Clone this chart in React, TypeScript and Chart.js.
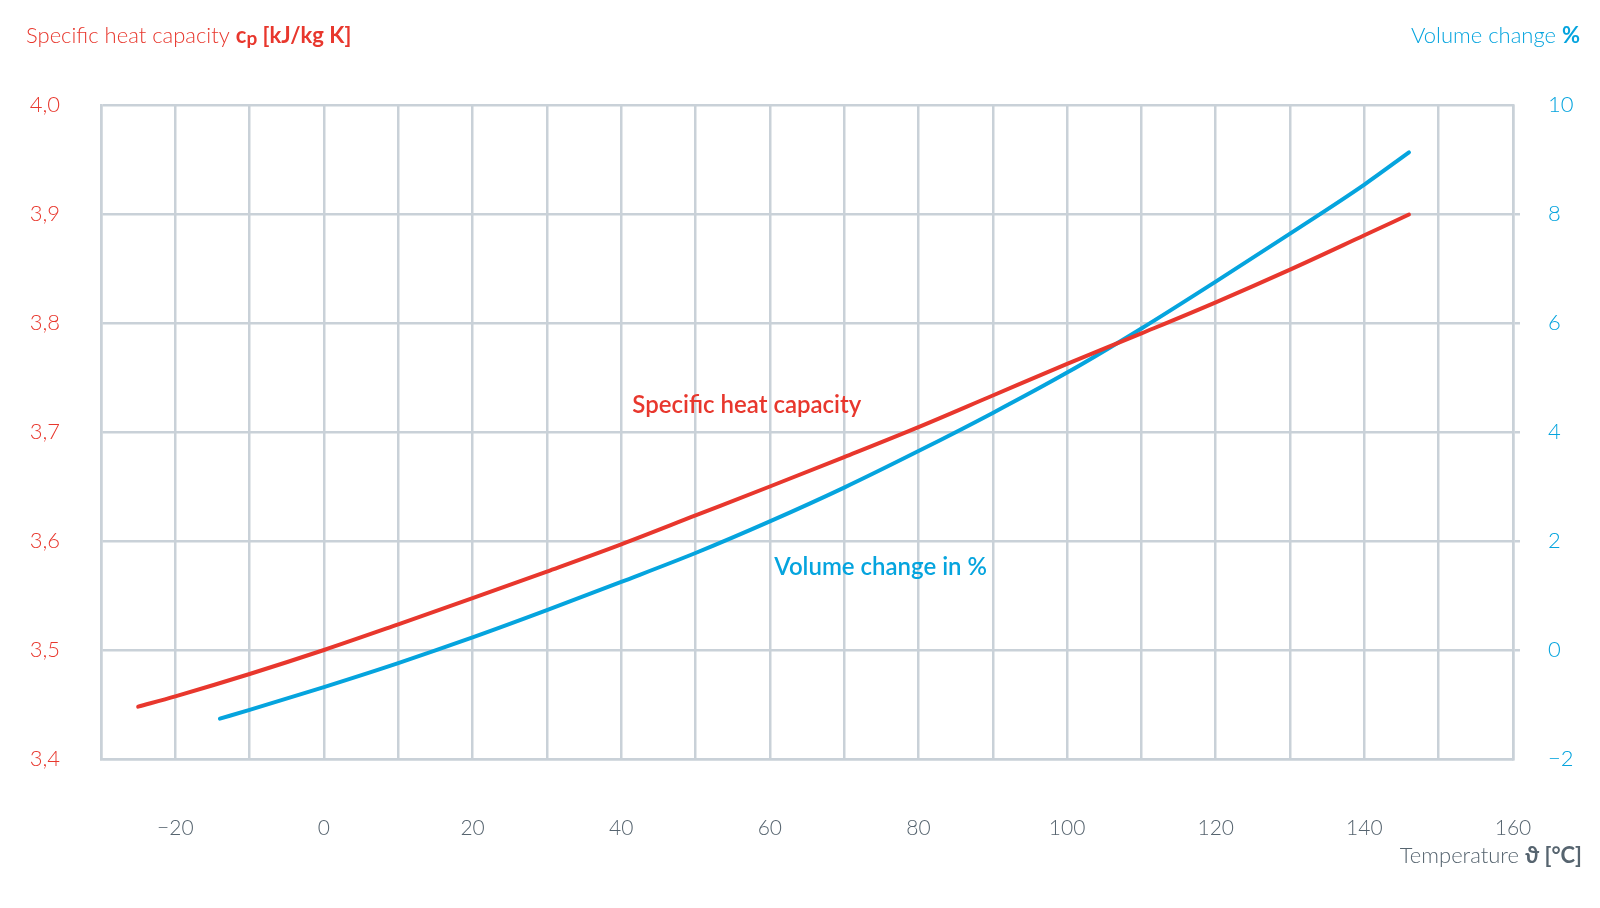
import React, { useEffect, useRef } from 'react';
import { Chart, registerables } from 'chart.js';

Chart.register(...registerables);

// ---- data ----
const heatTemps = [-25, -20, -10, 0, 10, 20, 30, 40, 50, 60, 70, 80, 90, 100, 110, 120, 130, 140, 146];
const heatCapacity = [3.448, 3.4575, 3.478, 3.5, 3.5235, 3.5475, 3.572, 3.597, 3.6235, 3.65, 3.677, 3.7045, 3.7335, 3.7625, 3.7905, 3.819, 3.849, 3.8805, 3.8995];
const volumeTemps = [-14, -10, 0, 10, 20, 30, 40, 50, 60, 70, 80, 90, 100, 110, 120, 130, 140, 146];
const volumeChange = [-1.26, -1.1, -0.68, -0.24, 0.23, 0.73, 1.25, 1.78, 2.36, 2.98, 3.65, 4.35, 5.09, 5.9, 6.76, 7.64, 8.54, 9.13];

const xGridValues = [-30, -20, -10, 0, 10, 20, 30, 40, 50, 60, 70, 80, 90, 100, 110, 120, 130, 140, 150, 160];
const xLabelValues = [-20, 0, 20, 40, 60, 80, 100, 120, 140, 160];
const cpTicks = [3.4, 3.5, 3.6, 3.7, 3.8, 3.9, 4.0];
const volumeTicks = [-2, 0, 2, 4, 6, 8, 10];

const RED = '#e8372d';
const BLUE = '#05a4de';
const GRID = '#c9d1d8';
const SLATE = '#56646f';
const FONT = 'Lato, "Open Sans", sans-serif';

const seriesLabels = [
  { text: 'Specific heat capacity', x: 41.5, y: 3.7245, axis: 'yCp', color: RED },
  { text: 'Volume change in %', x: 60.6, y: 1.52, axis: 'yVol', color: BLUE },
];

const fmtMinus = (v: number) => (v < 0 ? '\u2212' + String(Math.abs(v)) : String(v));

type Run = { text: string; weight: number; size: number; dy?: number };

function drawRuns(ctx: CanvasRenderingContext2D, runs: Run[], x: number, y: number, align: 'left' | 'right', color: string) {
  ctx.save();
  ctx.fillStyle = color;
  ctx.textBaseline = 'middle';
  ctx.textAlign = 'left';
  const widths = runs.map((r) => {
    ctx.font = `${r.weight} ${r.size}px ${FONT}`;
    return ctx.measureText(r.text).width;
  });
  const total = widths.reduce((a, b) => a + b, 0);
  let cx = align === 'left' ? x : x - total;
  runs.forEach((r, i) => {
    ctx.font = `${r.weight} ${r.size}px ${FONT}`;
    ctx.fillText(r.text, cx, y + (r.dy || 0));
    cx += widths[i];
  });
  ctx.restore();
}

const textPlugin = {
  id: 'texts',
  afterDraw(chart: any) {
    const ctx: CanvasRenderingContext2D = chart.ctx;
    drawRuns(ctx, [
      { text: 'Specific heat capacity ', weight: 300, size: 22 },
      { text: 'c', weight: 700, size: 22 },
      { text: 'p', weight: 700, size: 19, dy: 3 },
      { text: ' [kJ/kg K]', weight: 700, size: 22 },
    ], 26, 36, 'left', RED);
    drawRuns(ctx, [
      { text: 'Volume change ', weight: 300, size: 22 },
      { text: '%', weight: 700, size: 22 },
    ], 1580, 36, 'right', BLUE);
    drawRuns(ctx, [
      { text: 'Temperature ', weight: 300, size: 22 },
      { text: '\u03D1 [°C]', weight: 700, size: 22 },
    ], 1582, 856, 'right', SLATE);

    const xs = chart.scales.x;
    seriesLabels.forEach((l) => {
      const ys = chart.scales[l.axis];
      const px = xs.getPixelForValue(l.x);
      const py = ys.getPixelForValue(l.y);
      ctx.save();
      ctx.fillStyle = l.color;
      ctx.font = `600 24px ${FONT}`;
      ctx.textAlign = 'left';
      ctx.textBaseline = 'middle';
      ctx.fillText(l.text, px, py);
      ctx.restore();
    });
  },
};

export default function App() {
  const ref = useRef<HTMLCanvasElement | null>(null);
  useEffect(() => {
    if (!ref.current) return;
    const chart = new Chart(ref.current, {
      type: 'line',
      data: {
        datasets: [
          {
            label: 'Specific heat capacity',
            data: heatTemps.map((t, i) => ({ x: t, y: heatCapacity[i] })),
            borderColor: RED,
            borderWidth: 4,
            pointRadius: 0,
            cubicInterpolationMode: 'monotone',
            borderCapStyle: 'round',
            yAxisID: 'yCp',
          },
          {
            label: 'Volume change in %',
            data: volumeTemps.map((t, i) => ({ x: t, y: volumeChange[i] })),
            borderColor: BLUE,
            borderWidth: 4,
            pointRadius: 0,
            cubicInterpolationMode: 'monotone',
            borderCapStyle: 'round',
            yAxisID: 'yVol',
          },
        ],
      },
      options: {
        animation: false,
        responsive: false,
        devicePixelRatio: 1,
        layout: { padding: { top: 105, left: 0, right: 0, bottom: 0 } },
        plugins: { legend: { display: false }, tooltip: { enabled: false }, title: { display: false } },
        scales: {
          x: {
            type: 'linear',
            position: 'bottom',
            min: -30,
            max: 160,
            afterBuildTicks: (s: any) => {
              s.ticks = xGridValues.map((v) => ({ value: v }));
            },
            afterFit: (s: any) => {
              s.height = 149;
            },
            grid: { color: GRID, lineWidth: 2.5, drawTicks: false },
            border: { display: true, color: GRID, width: 2.5 },
            ticks: {
              autoSkip: false,
              maxRotation: 0,
              padding: 57,
              color: SLATE,
              font: { family: FONT, size: 21, weight: 300 },
              callback: (v: any) => (xLabelValues.includes(Number(v)) ? fmtMinus(Number(v)) : ''),
            },
          },
          yCp: {
            type: 'linear',
            position: 'left',
            min: 3.4,
            max: 4.0,
            afterBuildTicks: (s: any) => {
              s.ticks = cpTicks.map((v) => ({ value: v }));
            },
            afterFit: (s: any) => {
              s.width = 101;
            },
            grid: { color: GRID, lineWidth: 2.5, drawTicks: false },
            border: { display: true, color: GRID, width: 2.5 },
            ticks: {
              padding: 41,
              color: RED,
              font: { family: FONT, size: 22, weight: 300 },
              callback: (v: any) => Number(v).toFixed(1).replace('.', ','),
            },
          },
          yVol: {
            type: 'linear',
            position: 'right',
            min: -2,
            max: 10,
            afterBuildTicks: (s: any) => {
              s.ticks = volumeTicks.map((v) => ({ value: v }));
            },
            afterFit: (s: any) => {
              s.width = 87;
            },
            grid: {
              drawOnChartArea: false,
              drawTicks: true,
              tickLength: 7,
              lineWidth: 2.5,
              color: (c: any) => (c.tick && (c.tick.value === -2 || c.tick.value === 10) ? 'rgba(0,0,0,0)' : GRID),
            },
            border: { display: true, color: GRID, width: 2.5 },
            ticks: {
              padding: 28,
              color: BLUE,
              font: { family: FONT, size: 22, weight: 300 },
              callback: (v: any) => fmtMinus(Number(v)),
            },
          },
        },
      },
      plugins: [textPlugin],
    } as any);
    return () => chart.destroy();
  }, []);
  return (
    <div style={{ position: 'absolute', left: 0, top: 0, width: 1600, height: 908, background: '#fff' }}>
      <canvas ref={ref} width={1600} height={908} style={{ width: 1600, height: 908, display: 'block' }} />
    </div>
  );
}
